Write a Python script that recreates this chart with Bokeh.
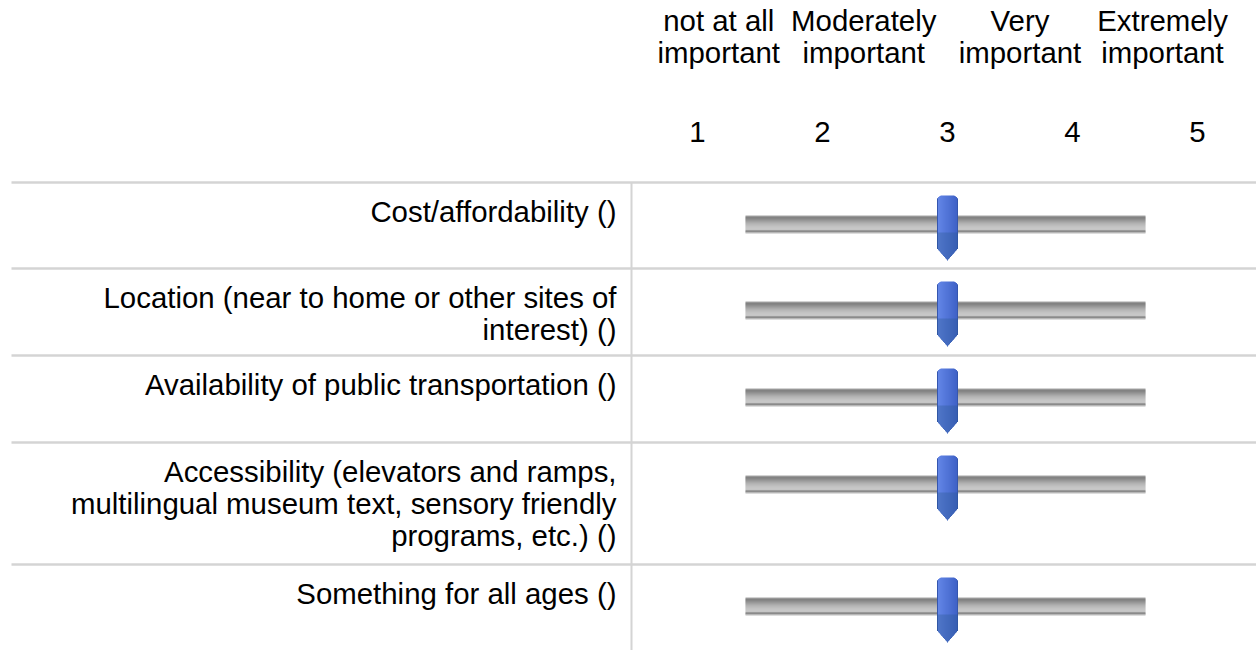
import math
from bokeh.plotting import figure
from bokeh.models import Range1d
from bokeh.core.properties import value
from bokeh.embed import file_html
from bokeh.resources import INLINE

# ---- data ----
scale_labels = ["not at all\nimportant", "Moderately\nimportant", "Very\nimportant", "Extremely\nimportant"]
scale_label_pos = [1.17, 2.33, 3.58, 4.72]   # where each anchor label sits on the 1-5 scale
scale_ticks = [1, 2, 3, 4, 5]
items = [
    "Cost/affordability ()",
    "Location (near to home or other sites of\ninterest) ()",
    "Availability of public transportation ()",
    "Accessibility (elevators and ramps,\nmultilingual museum text, sensory friendly\nprograms, etc.) ()",
    "Something for all ages ()",
]
responses = [3, 3, 3, 3, 3]
track_span = [1.384, 4.584]   # slider track extent on the scale

# ---- layout helpers (reference pixel space) ----
W, H = 1256, 650
PX = 1 / 125.0                      # scale units per pixel
X0 = 1 - 697 * PX                   # scale value at left edge of plot


def px2x(ref_px):
    return X0 + ref_px * PX


FONT = value("Liberation Sans")
FS = "29.4px"
LH = 0.98

p = figure(width=W, height=H, output_backend="svg", toolbar_location=None,
           x_range=Range1d(X0, X0 + W * PX), y_range=Range1d(H, 0),
           min_border=0, background_fill_color="white", border_fill_color="white")
p.axis.visible = False
p.grid.visible = False
p.outline_line_color = None

# header labels
p.text(x=scale_label_pos, y=[36] * len(scale_labels), text=scale_labels,
       text_font=FONT, text_font_size=FS, text_align="center", text_baseline="middle",
       text_line_height=LH, text_color="#000000")
p.text(x=scale_ticks, y=[131] * len(scale_ticks), text=[str(t) for t in scale_ticks],
       text_font=FONT, text_font_size=FS, text_align="center", text_baseline="middle",
       text_color="#000000")

# row geometry
row_tops = []
y = 182
for it in items:
    n = it.count("\n") + 1
    row_tops.append(round(y))
    y += 86.5 if n <= 2 else 86.5 + 35.5 * (n - 2)

# separators
p.segment(x0=[px2x(11)] * len(row_tops), x1=[px2x(1260)] * len(row_tops),
          y0=row_tops, y1=row_tops, line_color="#d4d4d4", line_width=2.5)
p.segment(x0=[px2x(631)], x1=[px2x(631)], y0=[182], y1=[660],
          line_color="#d4d4d4", line_width=2)

# item labels
p.text(x=[px2x(616)] * len(items), y=[t + 12 for t in row_tops], text=items,
       text_font=FONT, text_font_size=FS, text_align="right", text_baseline="top",
       text_line_height=LH, text_color="#000000")

# slider tracks (pixel-row gradient)
track_cols = ["#a8a8a8", "#5c5c5c", "#585858", "#626262", "#6e6e6e", "#7a7a7a",
              "#868686", "#929292", "#9c9c9c", "#a4a4a4", "#aaaaaa", "#afafaf",
              "#b3b3b3", "#b5b5b5", "#b0b0b0", "#5e5e5e", "#666666", "#bcbcbc"]
L, R, T, B, C = [], [], [], [], []
for top in row_tops:
    for k, col in enumerate(track_cols):
        L.append(track_span[0]); R.append(track_span[1])
        T.append(top + 33 + k); B.append(top + 34 + k); C.append(col)
p.quad(left=L, right=R, top=T, bottom=B, fill_color=C, line_color=None)

# slider handles (column slices)
HW = 10.5
RR = 5.0
L, R, T, B, C = [], [], [], [], []
L2, R2, T2, B2 = [], [], [], []
for top, v in zip(row_tops, responses):
    for i in range(21):
        c = -HW + i + 0.5
        d_edge = HW - abs(c)
        off = 0.0
        if d_edge < RR:
            off = RR - math.sqrt(max(0.0, RR ** 2 - (RR - d_edge) ** 2))
        yt = top + 13 + off
        yb = top + 66 + 12 * (1 - abs(c) / HW)
        L.append(v + (c - 0.5) * PX); R.append(v + (c + 0.5) * PX)
        T.append(yt); B.append(yb)
        if i in (0, 20):
            col = "#3556ae"
        else:
            t = (i - 1) / 18.0
            r_ = int(0x62 + (0x40 - 0x62) * t)
            g_ = int(0x85 + (0x63 - 0x85) * t)
            b_ = int(0xe6 + (0xc8 - 0xe6) * t)
            col = "#%02x%02x%02x" % (r_, g_, b_)
        C.append(col)
        L2.append(v + (c - 0.5) * PX); R2.append(v + (c + 0.5) * PX)
        T2.append(top + 50); B2.append(yb)
p.quad(left=L, right=R, top=T, bottom=B, fill_color=C, line_color=None)
p.quad(left=L2, right=R2, top=T2, bottom=B2, fill_color="#2a5a8e", fill_alpha=0.35,
       line_color=None)

open("out.html", "w").write(file_html(p, INLINE))
